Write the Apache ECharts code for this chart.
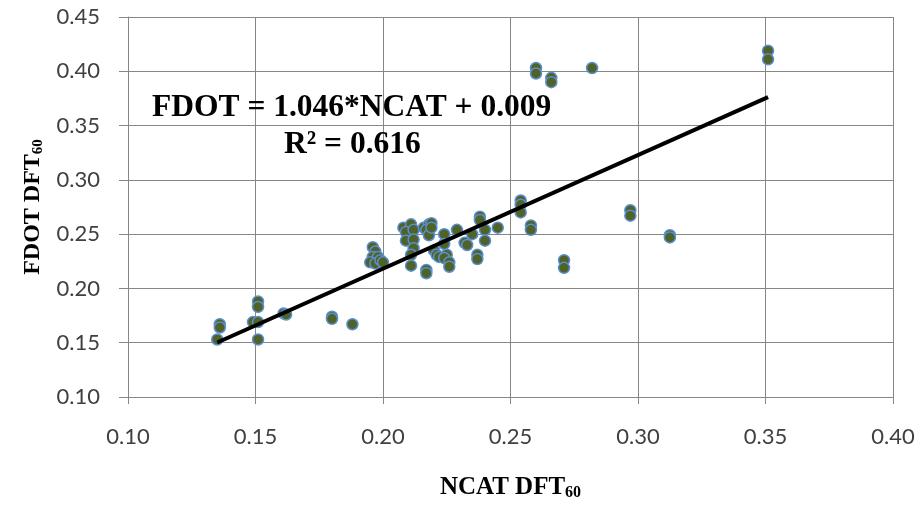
<!DOCTYPE html>
<html>
<head>
<meta charset="utf-8">
<script src="https://cdn.jsdelivr.net/npm/echarts@6/dist/echarts.min.js"></script>
<style>
html, body { margin: 0; padding: 0; background: #fff; }
#main { width: 920px; height: 508px; }
</style>
</head>
<body>
<div id="main"></div>
<script>
// NCAT DFT60 (x) vs FDOT DFT60 (y)
var ncat = [
    0.135, 0.136, 0.136, 0.149, 0.151, 0.151, 0.151, 0.151, 0.161, 0.162, 0.180, 0.180, 0.188,
    0.196, 0.197, 0.196, 0.198, 0.195, 0.197, 0.199, 0.200,
    0.208, 0.211, 0.209, 0.212, 0.209, 0.212, 0.212, 0.211, 0.211,
    0.216, 0.218, 0.217, 0.218, 0.217, 0.217,
    0.220, 0.221, 0.222, 0.225,
    0.219, 0.219, 0.224, 0.224, 0.224, 0.226, 0.226, 0.229, 0.232, 0.233, 0.235,
    0.238, 0.238, 0.240, 0.240, 0.237, 0.237, 0.245,
    0.254, 0.254, 0.254, 0.258, 0.258,
    0.260, 0.260, 0.266, 0.266, 0.282,
    0.271, 0.271, 0.297, 0.297, 0.3125, 0.3125, 0.351, 0.351
];
var fdot = [
    0.153, 0.167, 0.164, 0.169, 0.169, 0.188, 0.183, 0.153, 0.177, 0.176, 0.174, 0.172, 0.167,
    0.238, 0.234, 0.229, 0.229, 0.224, 0.223, 0.226, 0.224,
    0.256, 0.259, 0.252, 0.254, 0.244, 0.245, 0.237, 0.231, 0.221,
    0.256, 0.259, 0.254, 0.249, 0.217, 0.214,
    0.235, 0.231, 0.229, 0.231,
    0.260, 0.256, 0.250, 0.241, 0.228, 0.224, 0.220, 0.254, 0.242, 0.240, 0.250,
    0.266, 0.263, 0.254, 0.244, 0.231, 0.227, 0.256,
    0.281, 0.277, 0.270, 0.258, 0.254,
    0.403, 0.398, 0.394, 0.390, 0.403,
    0.226, 0.219, 0.272, 0.267, 0.249, 0.247, 0.419, 0.411
];
// trendline coefficients
var slope = 1.046;
var intercept = 0.009;
var xTicks = [0.10, 0.15, 0.20, 0.25, 0.30, 0.35, 0.40];
var yTicks = [0.10, 0.15, 0.20, 0.25, 0.30, 0.35, 0.40, 0.45];

var points = ncat.map(function (x, i) { return [x, fdot[i]]; });
var xMin = Math.min.apply(null, ncat);
var xMax = Math.max.apply(null, ncat);
var trend = [[xMin, slope * xMin + intercept], [xMax, slope * xMax + intercept]];

var serif = '"Liberation Serif", "Times New Roman", serif';
var labelFont = 'Lato, "Open Sans", sans-serif';

// bold axis title with a small subscript
function nameRich(size) {
    return {
        a: { fontFamily: serif, fontWeight: 'bold', fontSize: size, color: '#000', lineHeight: size + 6, verticalAlign: 'bottom' },
        s: { fontFamily: serif, fontWeight: 'bold', fontSize: Math.round(size * 0.62), color: '#000', lineHeight: Math.round(size * 0.7), verticalAlign: 'bottom', padding: [0, 0, -1, 0] }
    };
}

var myChart = echarts.init(document.getElementById('main'));
var option = {
    animation: false,
    grid: { left: 128, right: 27, top: 17, bottom: 111, outerBoundsMode: 'none', containLabel: false },
    xAxis: {
        type: 'value',
        min: xTicks[0],
        max: xTicks[xTicks.length - 1],
        interval: 0.05,
        name: '{a|NCAT DFT}{s|60}',
        nameLocation: 'middle',
        nameGap: 72,
        nameTextStyle: { rich: nameRich(25) },
        axisLine: { lineStyle: { color: '#868686', width: 1 } },
        axisTick: { show: true, length: 7, inside: false, lineStyle: { color: '#868686' } },
        axisLabel: {
            margin: 29,
            fontFamily: labelFont,
            fontSize: 22,
            color: '#404040',
            formatter: function (v) { return v.toFixed(2); }
        },
        splitLine: { show: true, lineStyle: { color: '#868686', width: 1 } }
    },
    yAxis: {
        type: 'value',
        min: yTicks[0],
        max: yTicks[yTicks.length - 1],
        interval: 0.05,
        name: '{a|FDOT DFT}{s|60}',
        nameLocation: 'middle',
        nameGap: 72,
        nameRotate: 90,
        nameTextStyle: { rich: nameRich(24) },
        axisLine: { show: true, lineStyle: { color: '#868686', width: 1 } },
        axisTick: { show: true, length: 9, lineStyle: { color: '#868686' } },
        axisLabel: {
            margin: 28,
            fontFamily: labelFont,
            fontSize: 22,
            color: '#404040',
            formatter: function (v) { return v.toFixed(2); }
        },
        splitLine: { show: true, lineStyle: { color: '#868686', width: 1 } }
    },
    graphic: [
        {
            type: 'text',
            left: 152,
            top: 92,
            style: {
                text: 'FDOT = 1.046*NCAT + 0.009',
                font: 'bold 31.5px ' + serif,
                fill: '#000'
            },
            z: 100
        },
        {
            type: 'text',
            left: 284,
            top: 129,
            style: {
                text: 'R² = 0.616',
                font: 'bold 31.5px ' + serif,
                fill: '#000'
            },
            z: 100
        }
    ],
    series: [
        {
            name: 'data',
            type: 'scatter',
            data: points,
            symbol: 'circle',
            symbolSize: 11,
            itemStyle: {
                color: '#4F6228',
                borderColor: '#5B8FD0',
                borderWidth: 1.5,
                opacity: 1
            },
            z: 2
        },
        {
            name: 'trend',
            type: 'line',
            data: trend,
            symbol: 'none',
            lineStyle: { color: '#000', width: 4 },
            z: 3
        }
    ]
};
myChart.setOption(option);
</script>
</body>
</html>
